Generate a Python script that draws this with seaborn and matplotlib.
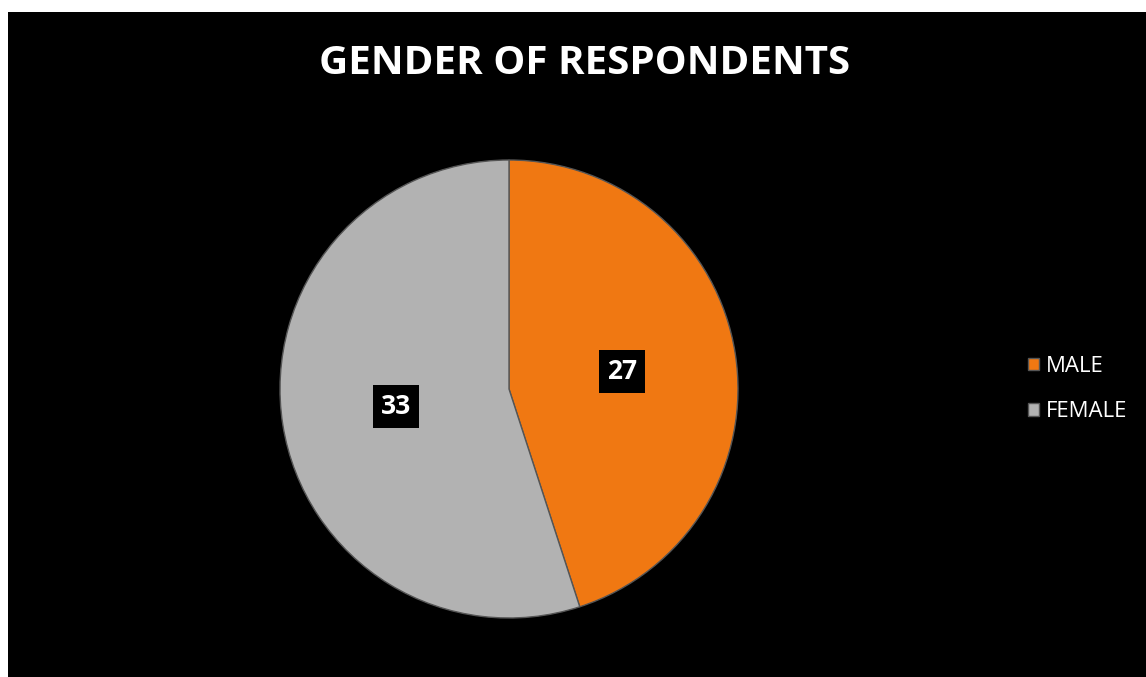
import matplotlib
matplotlib.use("Agg")
import matplotlib.pyplot as plt
import seaborn as sns
from matplotlib.patches import Rectangle

# data
genders = ["MALE", "FEMALE"]
counts = [27, 33]
colors = ["#F07812", "#B2B2B2"]

sns.set_theme(style="dark")
plt.rcParams["font.family"] = ["Open Sans", "DejaVu Sans"]

fig = plt.figure(figsize=(11.46, 6.77), dpi=100)
fig.patch.set_facecolor("white")

# black chart area (white margin at left/top like the original)
W, H = 1146, 677
fig.patches.append(Rectangle((8 / W, 0), 1 - 8 / W, 1 - 12 / H,
                             transform=fig.transFigure, facecolor="black",
                             edgecolor="none", zorder=-5))

# pie axes: centre ~ (509, 389) px, radius ~229 px
cx, cy, r = 509, 389, 229
ax = fig.add_axes([(cx - r) / W, (H - cy - r) / H, 2 * r / W, 2 * r / H])
ax.set_facecolor("none")
ax.set_zorder(2)

total = sum(counts)
wedges, texts, autotexts = ax.pie(
    counts, colors=colors, startangle=90, counterclock=False,
    autopct=lambda p: f"{round(p * total / 100)}", pctdistance=0.5,
    wedgeprops=dict(edgecolor="#555555", linewidth=1.0),
)
for t in autotexts:
    t.set_color("white")
    t.set_fontsize(19)
    t.set_fontweight("bold")
    t.set_bbox(dict(facecolor="black", edgecolor="none", boxstyle="square,pad=0.3"))
ax.set_aspect("equal")
ax.set_xlim(-1, 1)
ax.set_ylim(-1, 1)

fig.text(585 / W, 1 - 63 / H, "GENDER OF RESPONDENTS", color="white",
         fontsize=29, fontweight="bold", ha="center", va="center")

leg = fig.legend(wedges, genders, loc="center left",
                 bbox_to_anchor=(1008 / W, 1 - 389 / H), frameon=False,
                 fontsize=16, handlelength=0.5, handleheight=0.5,
                 handletextpad=0.3, labelspacing=1.1)
for t in leg.get_texts():
    t.set_color("white")

fig.savefig("out.png", dpi=100, facecolor=fig.get_facecolor())
